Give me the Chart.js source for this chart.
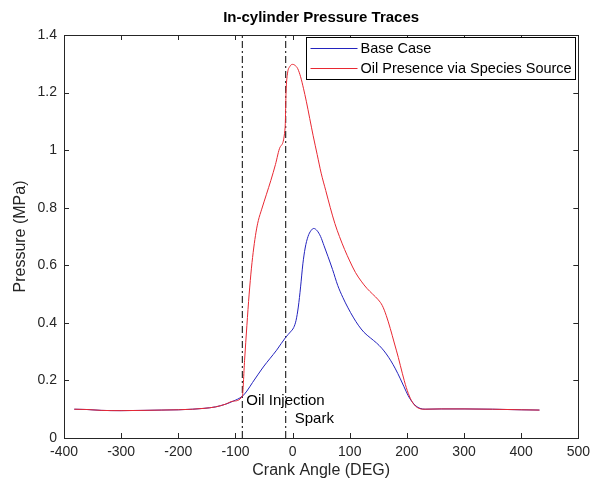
<!DOCTYPE html>
<html>
<head>
<meta charset="utf-8">
<script src="https://cdn.jsdelivr.net/npm/chart.js@4.4.1/dist/chart.umd.min.js"></script>
<style>
  body { margin: 0; background: #fff; }
</style>
</head>
<body>
<canvas id="pressure-chart" width="596" height="490"></canvas>
<script>
// Base case trace: crank angle (deg) / pressure (MPa)
const baseAngle = [-382, -360, -335, -300, -260, -230, -200, -175, -155, -135, -118, -104, -88, -80, -70, -60, -50, -40, -28, -12,
   -4, 2, 6, 10, 14, 18, 22, 27, 32, 37, 43, 49, 55, 62, 70, 79, 88, 97, 106, 115, 125, 136, 147, 156, 164, 172, 180, 188, 195,
   202, 209, 216, 223, 232, 260, 300, 350, 400, 432];
const basePressure = [0.100, 0.099, 0.096, 0.095, 0.096, 0.097, 0.098, 0.100, 0.103, 0.108, 0.117, 0.128, 0.145, 0.163, 0.193,
   0.222, 0.250, 0.275, 0.305, 0.350, 0.368, 0.384, 0.408, 0.455, 0.525, 0.605, 0.660, 0.700, 0.720, 0.728, 0.720, 0.700, 0.668,
   0.630, 0.585, 0.530, 0.488, 0.452, 0.420, 0.392, 0.367, 0.348, 0.330, 0.312, 0.292, 0.268, 0.240, 0.208, 0.178, 0.148, 0.126,
   0.111, 0.103, 0.100, 0.101, 0.101, 0.100, 0.098, 0.097];

// Oil presence via species source
const oilAngle = [-382, -360, -335, -300, -260, -230, -200, -175, -155, -135, -118, -104, -88, -84, -80, -76, -72, -68, -64, -60,
   -54, -46, -38, -30, -22, -13, -11.5, -9, -5, 0, 4, 9, 14, 19, 24, 30, 36, 43, 50, 58, 66, 74, 82, 91, 100, 110, 120, 130,
   140, 150, 157, 164, 171, 178, 185, 192, 199, 206, 213, 220, 228, 260, 300, 350, 400, 432];
const oilPressure = [0.100, 0.099, 0.096, 0.095, 0.096, 0.097, 0.098, 0.100, 0.103, 0.108, 0.117, 0.128, 0.145, 0.27, 0.39, 0.50,
   0.59, 0.66, 0.715, 0.755, 0.795, 0.845, 0.895, 0.95, 1.01, 1.08, 1.20, 1.265, 1.29, 1.298, 1.295, 1.283, 1.255, 1.215, 1.17,
   1.11, 1.05, 0.985, 0.92, 0.86, 0.80, 0.745, 0.70, 0.655, 0.615, 0.575, 0.545, 0.52, 0.50, 0.48, 0.46, 0.425, 0.38, 0.33, 0.28,
   0.225, 0.175, 0.138, 0.115, 0.104, 0.100, 0.101, 0.101, 0.100, 0.098, 0.097];

// event markers (dash-dot lines)
const eventAngle = [-88, -12];
const eventLabel = ['Oil Injection', 'Spark'];

const xTicks = [-400, -300, -200, -100, 0, 100, 200, 300, 400, 500];
const yTicks = [0, 0.2, 0.4, 0.6, 0.8, 1, 1.2, 1.4];

const chartTitle = 'In-cylinder Pressure Traces';

const toPoints = (xs, ys) => xs.map((x, i) => ({ x: x, y: ys[i] }));

const FONT = 'Arial, "Liberation Sans", Helvetica, sans-serif';
const AXIS_COLOR = '#262626';

const eventSets = eventAngle.map(a => ({
   label: '',
   data: [{ x: a, y: yTicks[0] }, { x: a, y: yTicks[yTicks.length - 1] }],
   borderColor: '#000',
   borderWidth: 1,
   borderDash: [7, 3, 2, 3],
   pointRadius: 0,
   order: 2,
   isEvent: true
}));

// box, inward ticks, title, legend and text labels like a matlab figure
const matlabAxes = {
   id: 'matlabAxes',
   afterDraw(chart) {
      const { ctx, chartArea: a, scales: { x, y } } = chart;
      ctx.save();
      ctx.strokeStyle = AXIS_COLOR;
      ctx.lineWidth = 1;
      ctx.strokeRect(Math.round(a.left) + 0.5, Math.round(a.top) + 0.5, Math.round(a.right - a.left), Math.round(a.bottom - a.top));
      const tl = 5;
      ctx.beginPath();
      xTicks.forEach(v => {
         const px = Math.round(x.getPixelForValue(v)) + 0.5;
         ctx.moveTo(px, a.bottom); ctx.lineTo(px, a.bottom - tl);
         ctx.moveTo(px, a.top); ctx.lineTo(px, a.top + tl);
      });
      yTicks.forEach(v => {
         const py = Math.round(y.getPixelForValue(v)) + 0.5;
         ctx.moveTo(a.left, py); ctx.lineTo(a.left + tl, py);
         ctx.moveTo(a.right, py); ctx.lineTo(a.right - tl, py);
      });
      ctx.stroke();

      // title, centred on the axes
      ctx.fillStyle = '#000';
      ctx.textAlign = 'center';
      ctx.textBaseline = 'middle';
      ctx.font = 'bold 15px ' + FONT;
      ctx.fillText(chartTitle, (a.left + a.right) / 2, 18);

      // event labels
      ctx.font = '15px ' + FONT;
      ctx.textAlign = 'left';
      ctx.fillText(eventLabel[0], x.getPixelForValue(eventAngle[0]) + 4, y.getPixelForValue(0.13));
      ctx.fillText(eventLabel[1], x.getPixelForValue(eventAngle[1]) + 9, y.getPixelForValue(0.068));

      // legend
      const lines = chart.data.datasets.filter(d => !d.isEvent);
      const lw = 269, lh = 42;
      const lx = Math.round(a.right - 3 - lw) + 0.5, ly = Math.round(a.top + 2) + 0.5;
      ctx.fillStyle = '#fff';
      ctx.fillRect(lx, ly, lw, lh);
      ctx.strokeStyle = '#000';
      ctx.strokeRect(lx, ly, lw, lh);
      ctx.font = '14.5px ' + FONT;
      lines.forEach((d, i) => {
         const cy = ly + 11 + i * 20;
         ctx.strokeStyle = d.borderColor;
         ctx.beginPath();
         ctx.moveTo(lx + 4, cy); ctx.lineTo(lx + 51, cy);
         ctx.stroke();
         ctx.fillStyle = '#000';
         ctx.fillText(d.label, lx + 54, cy);
      });
      ctx.restore();
   }
};

const ctx1 = document.getElementById('pressure-chart');
const pressureChart = new Chart(ctx1, {
   type: 'line',
   data: {
      datasets: [{
         label: 'Base Case',
         data: toPoints(baseAngle, basePressure),
         borderColor: 'rgb(35, 35, 190)',
         borderWidth: 1,
         pointRadius: 0,
         cubicInterpolationMode: 'monotone',
         order: 1
      }, {
         label: 'Oil Presence via Species Source',
         data: toPoints(oilAngle, oilPressure),
         borderColor: 'rgb(232, 40, 50)',
         borderWidth: 1,
         pointRadius: 0,
         cubicInterpolationMode: 'monotone',
         order: 0
      }].concat(eventSets)
   },
   options: {
      responsive: false,
      animation: false,
      layout: { padding: { left: 0, right: 16, top: 35, bottom: 0 } },
      scales: {
         x: {
            type: 'linear',
            min: xTicks[0],
            max: xTicks[xTicks.length - 1],
            afterBuildTicks: s => { s.ticks = xTicks.map(v => ({ value: v })); },
            afterFit: s => { s.height = 52; },
            grid: { display: false, drawTicks: false },
            border: { display: false },
            ticks: { padding: 6, color: AXIS_COLOR, font: { family: FONT, size: 14 }, maxRotation: 0 },
            title: { display: true, text: 'Crank Angle (DEG)', color: AXIS_COLOR, font: { family: FONT, size: 16 }, padding: { top: 0, bottom: 10 } }
         },
         y: {
            min: yTicks[0],
            max: yTicks[yTicks.length - 1],
            afterBuildTicks: s => { s.ticks = yTicks.map(v => ({ value: v })); },
            afterFit: s => { s.width = 64; },
            grid: { display: false, drawTicks: false },
            border: { display: false },
            ticks: { padding: 7, color: AXIS_COLOR, font: { family: FONT, size: 14 }, callback: v => String(Math.round(v * 10) / 10) },
            title: { display: true, text: 'Pressure (MPa)', color: AXIS_COLOR, font: { family: FONT, size: 16 }, padding: { top: 11, bottom: 0 } }
         }
      },
      plugins: {
         legend: { display: false },
         tooltip: { enabled: false },
         title: { display: false }
      }
   },
   plugins: [matlabAxes]
});
</script>
</body>
</html>
